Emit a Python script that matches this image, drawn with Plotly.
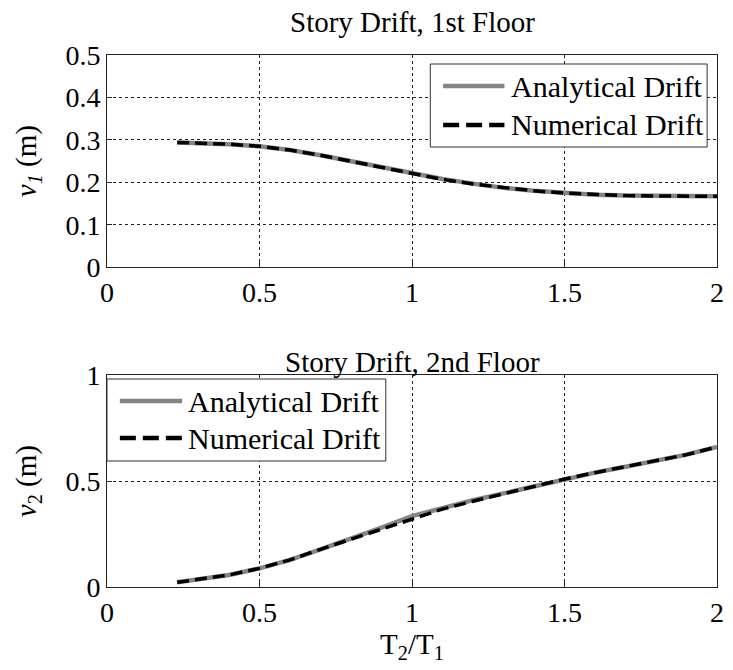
import plotly.graph_objects as go

# Period ratio T2/T1
t_ratio = [0.23, 0.3, 0.4, 0.5, 0.6, 0.7, 0.8, 0.9, 1.0, 1.1, 1.2, 1.3, 1.4, 1.5, 1.6, 1.7, 1.8, 1.9, 2.0]

# 1st floor drift (m)
v1_analytical = [0.294, 0.293, 0.290, 0.285, 0.276, 0.264, 0.250, 0.236, 0.221, 0.208, 0.197, 0.187, 0.180, 0.175, 0.171, 0.169, 0.168, 0.167, 0.167]
v1_numerical = [0.294, 0.293, 0.290, 0.285, 0.276, 0.264, 0.250, 0.236, 0.220, 0.207, 0.196, 0.187, 0.180, 0.175, 0.171, 0.169, 0.168, 0.167, 0.167]

# 2nd floor drift (m)
v2_analytical = [0.022, 0.035, 0.057, 0.088, 0.128, 0.178, 0.228, 0.280, 0.335, 0.375, 0.410, 0.442, 0.475, 0.510, 0.540, 0.568, 0.596, 0.625, 0.662]
v2_numerical = [0.022, 0.035, 0.057, 0.088, 0.128, 0.178, 0.225, 0.272, 0.322, 0.368, 0.405, 0.440, 0.475, 0.510, 0.540, 0.568, 0.596, 0.625, 0.662]

x_ticks = [0, 0.5, 1, 1.5, 2]
y1_ticks = [0, 0.1, 0.2, 0.3, 0.4, 0.5]
y2_ticks = [0, 0.5, 1]

series_names = ["Analytical Drift", "Numerical Drift"]

FONT = "Liberation Serif"
FS = 29
LEG_FS = 30
TICK_FS = 28

W, H = 733, 670
ML, MR, MT, MB = 107, 9, 55, 83
PW, PH = W - ML - MR, H - MT - MB

ANALYTICAL_STYLE = dict(color="#858585", width=4.5)
NUMERICAL_STYLE = dict(color="black", width=3.5, dash="12px,6px")


def px_x(px):
    """Pixel column -> paper x."""
    return (px - ML) / PW


def px_y(py):
    """Pixel row -> paper y."""
    return (H - MB - py) / PH


fig = go.Figure()

fig.add_trace(go.Scatter(x=t_ratio, y=v1_analytical, mode="lines", name=series_names[0],
                         line=ANALYTICAL_STYLE, xaxis="x", yaxis="y"))
fig.add_trace(go.Scatter(x=t_ratio, y=v1_numerical, mode="lines", name=series_names[1],
                         line=NUMERICAL_STYLE, xaxis="x", yaxis="y"))
fig.add_trace(go.Scatter(x=t_ratio, y=v2_analytical, mode="lines", name=series_names[0],
                         line=ANALYTICAL_STYLE, xaxis="x2", yaxis="y2"))
fig.add_trace(go.Scatter(x=t_ratio, y=v2_numerical, mode="lines", name=series_names[1],
                         line=NUMERICAL_STYLE, xaxis="x2", yaxis="y2"))

axis_common = dict(
    showline=True, linecolor="#222", linewidth=1, mirror=True,
    showgrid=True, gridcolor="#222", griddash="dot", gridwidth=1,
    zeroline=False, ticks="inside", ticklen=5, tickcolor="#222",
    tickfont=dict(family=FONT, size=TICK_FS, color="black"),
)

shapes = []
annotations = []


def add_legend(box, rows, line_x, text_x):
    """Boxed legend: box=(x0, y0, x1, y1) in px, rows = centre y of each entry."""
    x0, y0, x1, y1 = box
    shapes.append(dict(type="rect", xref="paper", yref="paper",
                       x0=px_x(x0), x1=px_x(x1), y0=px_y(y1), y1=px_y(y0),
                       line=dict(color="#333", width=1), fillcolor="white", layer="above"))
    styles = [ANALYTICAL_STYLE, dict(color="black", width=4.5, dash="16px,7px")]
    for name, ry, st in zip(series_names, rows, styles):
        shapes.append(dict(type="line", xref="paper", yref="paper",
                           x0=px_x(line_x[0]), x1=px_x(line_x[1]), y0=px_y(ry), y1=px_y(ry),
                           line=st, layer="above"))
        annotations.append(dict(text=name, xref="paper", yref="paper",
                                x=px_x(text_x), y=px_y(ry), xanchor="left", yanchor="middle",
                                showarrow=False, font=dict(family=FONT, size=LEG_FS, color="black")))


add_legend((434, 64, 714, 147), (86, 125), (447, 509), (514))
add_legend((107, 379, 389, 461), (401, 438), (120, 183), (187))

annotations += [
    dict(text="Story Drift, 1st Floor", x=0.5, y=1, xref="paper", yref="paper",
         xanchor="center", yanchor="bottom", yshift=15, showarrow=False,
         font=dict(family=FONT, size=FS, color="black")),
    dict(text="Story Drift, 2nd Floor", x=0.5, y=0.398, xref="paper", yref="paper",
         xanchor="center", yanchor="bottom", yshift=-5, showarrow=False,
         font=dict(family=FONT, size=FS, color="black")),
]

fig.update_layout(
    width=W, height=H,
    margin=dict(l=ML, r=MR, t=MT, b=MB),
    paper_bgcolor="white", plot_bgcolor="white",
    showlegend=False,
    xaxis=dict(domain=[0, 1], anchor="y", range=[0, 2], tickvals=x_ticks, **axis_common),
    yaxis=dict(domain=[0.601, 1], anchor="x", range=[0, 0.5], tickvals=y1_ticks,
               title=dict(text="<i>v</i><sub><i>1</i></sub> (m)", font=dict(family=FONT, size=FS, color="black"), standoff=20),
               **axis_common),
    xaxis2=dict(domain=[0, 1], anchor="y2", range=[0, 2], tickvals=x_ticks,
                title=dict(text="T<sub>2</sub>/T<sub>1</sub>", font=dict(family=FONT, size=FS, color="black"), standoff=2),
                **axis_common),
    yaxis2=dict(domain=[0, 0.398], anchor="x2", range=[0, 1], tickvals=y2_ticks,
                title=dict(text="<i>v</i><sub>2</sub> (m)", font=dict(family=FONT, size=FS, color="black"), standoff=20),
                **axis_common),
    shapes=shapes,
    annotations=annotations,
)

fig.write_html("out.html")
